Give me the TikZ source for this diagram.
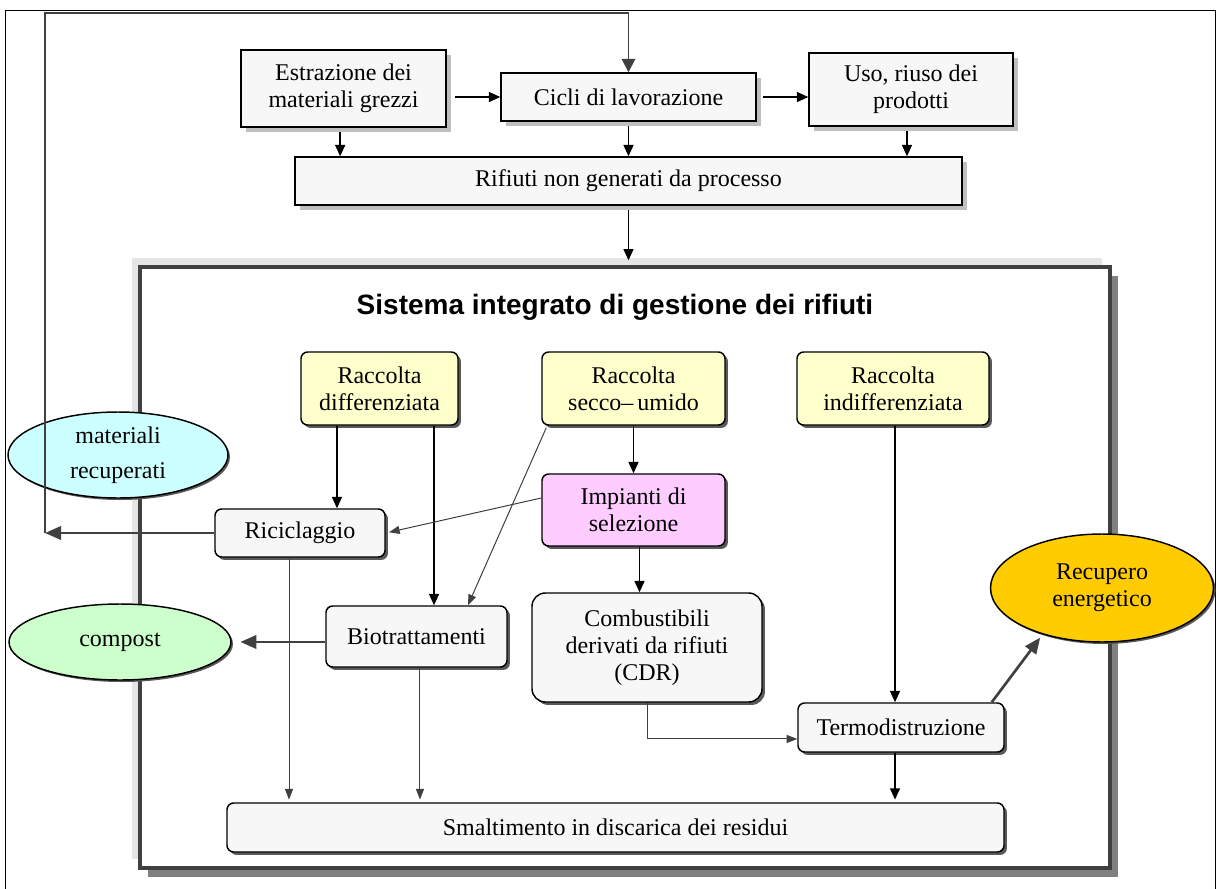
\documentclass[tikz,border=0pt]{standalone}
\usepackage{fontspec}
\setmainfont{Liberation Serif}
\newfontfamily\titlefont{Liberation Sans}
\usetikzlibrary{arrows.meta,shapes.geometric,shadows}
\definecolor{boxgray}{HTML}{F7F7F7}
\definecolor{yel}{HTML}{FFFFCC}
\definecolor{pink}{HTML}{FFCCFF}
\definecolor{cyanl}{HTML}{CCFFFF}
\definecolor{greenl}{HTML}{CCFFCC}
\definecolor{orange}{HTML}{FFCC00}
\definecolor{dk}{HTML}{404040}
\def\pu{0.75pt}
\tikzset{
  base/.style={font=\fontsize{18}{20.25}\selectfont, align=center, inner sep=0pt, line width=1.1pt, draw=black},
  sqbox/.style={base, rectangle, fill=boxgray,
    drop shadow={shadow xshift=3.75pt, shadow yshift=-3.75pt, fill=black!25, opacity=1}},
  rbox/.style={base, rectangle, rounded corners=5pt, fill=boxgray,
    drop shadow={shadow xshift=2.2pt, shadow yshift=-2.2pt, fill=black!65, opacity=1}},
  ell/.style={base, ellipse,
    drop shadow={shadow xshift=1.5pt, shadow yshift=-1.5pt, fill=black!65, opacity=1}},
  arr/.style={line width=1.1pt, draw=black, -{Triangle[length=8.5pt,width=7.5pt]}},
  bigarr/.style={line width=1.4pt, draw=dk, -{Triangle[length=10pt,width=10pt]}},
  thinarr/.style={line width=0.75pt, draw=dk, -{Triangle[length=8pt,width=6pt]}},
  thickarr/.style={line width=2pt, draw=dk, -{Triangle[length=12pt,width=10pt]}},
}
\begin{document}
\begin{tikzpicture}[x=0.75pt,y=-0.75pt]
\useasboundingbox (0,0) rectangle (1218,889);
\fill[white] (0,0) rectangle (1218,889);
% outer frame
\draw[line width=0.75pt] (5,889) -- (5,10) -- (1215,10) -- (1215,889);

% top boxes
\node[sqbox, minimum width=205*\pu, minimum height=77*\pu] (estr) at (343.5,88.5) {Estrazione dei\\materiali grezzi};
\node[sqbox, minimum width=255*\pu, minimum height=48*\pu] (cicli) at (628.5,97) {Cicli di lavorazione};
\node[sqbox, minimum width=204*\pu, minimum height=73*\pu] (uso) at (911,89.5) {Uso, riuso dei\\prodotti};
\node[sqbox, minimum width=667*\pu, minimum height=48*\pu] (rif) at (628.5,181) {Rifiuti non generati da processo};

% system box
\node[draw=dk, line width=3pt, fill=white, inner sep=0pt,
  minimum width=970*\pu, minimum height=601*\pu,
  general shadow={shadow xshift=6pt, shadow yshift=-6.5pt, fill=black!50},
  general shadow={shadow xshift=-6pt, shadow yshift=6.5pt, fill=black!10}] (sys) at (625,567.5) {};
\node[font=\titlefont\bfseries\fontsize{21}{24}\selectfont, inner sep=0pt] (title) at (615,307) {Sistema integrato di gestione dei rifiuti};

% inner boxes
\node[rbox, fill=yel, minimum width=157*\pu, minimum height=73*\pu] (rdiff) at (379.5,388.5) {Raccolta\\differenziata};
\node[rbox, fill=yel, minimum width=183*\pu, minimum height=73*\pu] (rsec) at (633.5,388.5) {Raccolta\\secco–\,umido};
\node[rbox, fill=yel, minimum width=192*\pu, minimum height=73*\pu] (rind) at (893,388.5) {Raccolta\\indifferenziata};
\node[rbox, fill=pink, minimum width=183*\pu, minimum height=72*\pu] (imp) at (633.5,510) {Impianti di\\selezione};
\node[rbox, minimum width=170*\pu, minimum height=48*\pu] (ric) at (300,533) {Riciclaggio};
\node[rbox, minimum width=181*\pu, minimum height=61*\pu] (bio) at (416.5,636.5) {Biotrattamenti};
\node[rbox, rounded corners=10pt, minimum width=230*\pu, minimum height=109*\pu] (cdr) at (647,647.5) {Combustibili\\derivati da rifiuti\\(CDR)};
\node[rbox, minimum width=206*\pu, minimum height=49*\pu] (termo) at (901,727.5) {Termodistruzione};
\node[rbox, minimum width=777*\pu, minimum height=49*\pu] (smalt) at (615.5,827.5) {Smaltimento in discarica dei residui};

% ellipses
\node[ell, fill=cyanl, minimum width=220*\pu, minimum height=86*\pu] (mat) at (118,455) {materiali\\[6pt]recuperati};
\node[ell, fill=greenl, minimum width=222*\pu, minimum height=76*\pu] (comp) at (120,642) {compost};
\node[ell, fill=orange, minimum width=223*\pu, minimum height=108*\pu] (rec) at (1102,588) {Recupero\\energetico};

% top arrows
\draw[arr, shorten <=6.5pt] (estr.east |- cicli.west) -- (cicli.west);
\draw[arr, shorten <=4.5pt] (cicli.east) -- (uso.west |- cicli.east);
\draw[arr, shorten <=3.5pt] ([xshift=-2.5pt]estr.south) -- ([xshift=-2.5pt]estr.south |- rif.north);
\draw[arr, shorten <=3.5pt] (cicli.south) -- (cicli.south |- rif.north);
\draw[arr, shorten <=3.5pt] ([xshift=-3pt]uso.south) -- ([xshift=-3pt]uso.south |- rif.north);
\draw[arr, shorten <=3.5pt, shorten >=3.5pt] (rif.south) -- (rif.south |- sys.north);

% feedback loop
\coordinate (fbB) at (45,533);
\coordinate (fbT) at (45,13);
\draw[thickarr] (ric.west) -- (fbB);
\draw[bigarr] (fbB) -- (fbT) -- (fbT -| cicli.north) -- (cicli.north);

% inner arrows
\draw[arr] ([xshift=-31.9pt]rdiff.south) -- ([xshift=-31.9pt]rdiff.south |- ric.north);
\draw[arr] ([xshift=40.9pt]rdiff.south) -- ([xshift=40.9pt]rdiff.south |- bio.north);
\draw[thinarr] ([xshift=3.75pt,yshift=-1.5pt]rsec.south west) -- ([xshift=38.6pt]bio.north);
\draw[arr] (rsec.south) -- (imp.north);
\draw[thinarr, shorten >=2.5pt] ([yshift=9pt]imp.west) -- (ric.east);
\draw[arr] ([xshift=4.5pt]imp.south) -- ([xshift=4.5pt]imp.south |- cdr.north);
\draw[thinarr, shorten >=2pt] ([xshift=-8.25pt]ric.south) -- ([xshift=-8.25pt]ric.south |- smalt.north);
\draw[thinarr, shorten >=2pt] ([xshift=2.6pt]bio.south) -- ([xshift=2.6pt]bio.south |- smalt.north);
\draw[thickarr, shorten >=6.5pt] ([yshift=-4.1pt]bio.west) -- ([yshift=-4.1pt]bio.west -| comp.east);
\draw[arr] ([xshift=1.5pt]rind.south) -- ([xshift=1.5pt]rind.south |- termo.north);
\draw[thinarr] (cdr.south) |- ([yshift=-8.6pt]termo.west);
\draw[arr, shorten >=2pt] ([xshift=-4.5pt]termo.south) -- ([xshift=-4.5pt]termo.south |- smalt.north);
\draw[thickarr, shorten >=3pt] ([xshift=-9.75pt]termo.north east) -- (rec.218);
\end{tikzpicture}
\end{document}
